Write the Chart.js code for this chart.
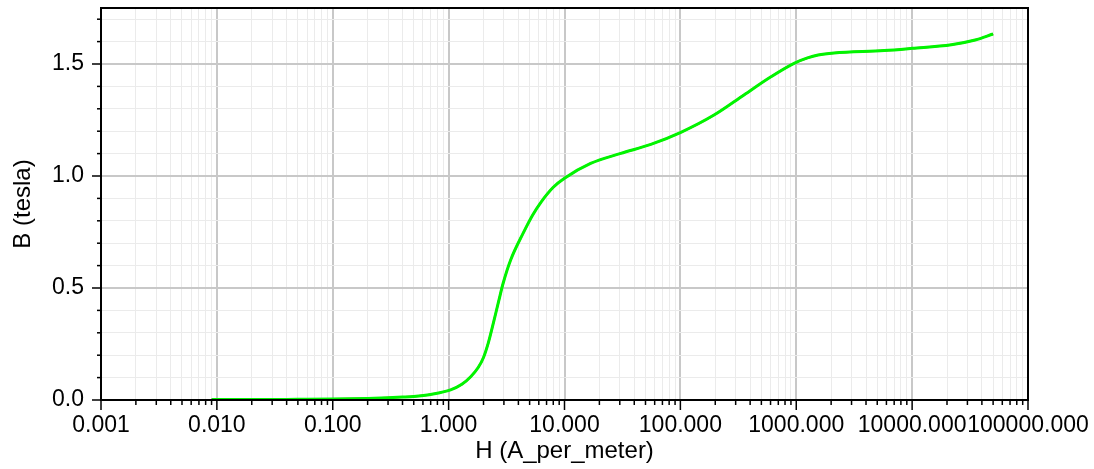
<!DOCTYPE html>
<html>
<head>
<meta charset="utf-8">
<script src="https://cdn.jsdelivr.net/npm/chart.js@4"></script>
<style>
  html, body { margin: 0; padding: 0; background: #fff; }
  #wrap { width: 1094px; height: 469px; }
</style>
</head>
<body>
<div id="wrap"><canvas id="chart"></canvas></div>
<script>
const hValues = [0.009, 0.02, 0.05, 0.1, 0.2, 0.3, 0.4, 0.5, 0.7, 1.04, 1.3, 1.55, 1.8, 2.0, 2.2, 2.45, 2.7, 2.95, 3.43, 4.4,
  5.3, 6.3, 8.0, 10.0, 16.8, 30.6, 55.6, 101, 195, 354, 605, 957, 1250, 1545, 2120, 5740, 10000, 21800, 35000, 50000]
const bValues = [0.002, 0.002, 0.003, 0.004, 0.007, 0.010, 0.013, 0.016, 0.025, 0.045, 0.07, 0.104, 0.145, 0.19, 0.255, 0.35, 0.44, 0.52, 0.625, 0.745,
  0.825, 0.885, 0.95, 0.99, 1.056, 1.101, 1.141, 1.195, 1.272, 1.362, 1.443, 1.503, 1.527, 1.540, 1.549, 1.560, 1.570, 1.586, 1.607, 1.634]

const xDecades = [0.001, 0.01, 0.1, 1, 10, 100, 1000, 10000, 100000]
const xTickLabels = ['0.001', '0.010', '0.100', '1.000', '10.000', '100.000', '1000.000', '10000.000', '100000.000']
const yMajorTicks = [0, 0.5, 1.0, 1.5]
const yTickLabels = ['0.0', '0.5', '1.0', '1.5']

const points = hValues.map((h, i) => ({ x: h, y: bValues[i] }))

function isDecade(v) {
  return Math.abs(Math.log10(v) - Math.round(Math.log10(v))) < 1e-9
}
function isYMajor(v) {
  return Math.abs(v * 2 - Math.round(v * 2)) < 1e-9
}

// frame + ticks of different lengths
const framePlugin = {
  id: 'frame',
  afterDraw(chart) {
    const { ctx, chartArea: a, scales } = chart
    ctx.save()
    ctx.strokeStyle = '#000'
    ctx.lineWidth = 1.5
    scales.x.ticks.forEach(t => {
      const px = scales.x.getPixelForValue(t.value)
      const len = isDecade(t.value) ? 10 : 5
      ctx.beginPath()
      ctx.moveTo(px, a.bottom)
      ctx.lineTo(px, a.bottom + len)
      ctx.stroke()
    })
    scales.y.ticks.forEach(t => {
      const py = scales.y.getPixelForValue(t.value)
      const len = isYMajor(t.value) ? 9 : 4
      ctx.beginPath()
      ctx.moveTo(a.left, py)
      ctx.lineTo(a.left - len, py)
      ctx.stroke()
    })
    ctx.lineWidth = 2
    ctx.strokeRect(a.left, a.top, a.right - a.left, a.bottom - a.top)
    ctx.restore()
  }
}

Chart.defaults.font.family = '"Liberation Sans", Arial, sans-serif'
Chart.defaults.color = '#000'

new Chart(document.getElementById('chart'), {
  type: 'scatter',
  data: {
    datasets: [{
      label: 'B-H fit',
      data: points,
      showLine: true,
      borderColor: '#e02020',
      borderWidth: 2,
      pointRadius: 0,
      cubicInterpolationMode: 'monotone',
      order: 2
    }, {
      label: 'B-H',
      data: points,
      showLine: true,
      borderColor: '#00f500',
      borderWidth: 3,
      pointRadius: 0,
      cubicInterpolationMode: 'monotone',
      order: 1
    }]
  },
  options: {
    responsive: true,
    maintainAspectRatio: false,
    animation: false,
    layout: { padding: { top: 8, right: 66, left: 0, bottom: 0 } },
    plugins: { legend: { display: false }, tooltip: { enabled: false } },
    scales: {
      x: {
        type: 'logarithmic',
        min: 0.001,
        max: 100000,
        afterBuildTicks(scale) {
          const ticks = []
          xDecades.forEach(d => {
            for (let m = 1; m <= 9; m++) {
              const v = Number((d * m).toPrecision(6))
              if (v <= 100000) ticks.push({ value: v })
            }
          })
          scale.ticks = ticks
        },
        afterFit(scale) {
          scale.height = 69
          scale.paddingLeft = 0
          scale.paddingRight = 0
        },
        grid: {
          drawTicks: false,
          color: c => (c.tick && isDecade(c.tick.value)) ? '#c8c8c8' : '#ebebeb',
          lineWidth: c => (c.tick && isDecade(c.tick.value)) ? 2 : 1
        },
        border: { display: false },
        ticks: {
          autoSkip: false,
          maxRotation: 0,
          padding: 12,
          font: { size: 23 },
          callback(v) {
            const i = xDecades.findIndex(d => Math.abs(d - v) / d < 1e-9)
            return i >= 0 ? xTickLabels[i] : ''
          }
        },
        title: { display: true, text: 'H (A_per_meter)', font: { size: 24 }, padding: { top: 0, bottom: 3 } }
      },
      y: {
        min: 0,
        max: 1.75,
        afterBuildTicks(scale) {
          const ticks = []
          for (let i = 0; i <= 17; i++) ticks.push({ value: Number((i * 0.1).toFixed(1)) })
          scale.ticks = ticks
        },
        afterFit(scale) {
          scale.width = 101
          scale.paddingTop = 0
          scale.paddingBottom = 0
        },
        grid: {
          drawTicks: false,
          color: c => (c.tick && isYMajor(c.tick.value)) ? '#c8c8c8' : '#ebebeb',
          lineWidth: c => (c.tick && isYMajor(c.tick.value)) ? 2 : 1
        },
        border: { display: false },
        ticks: {
          autoSkip: false,
          padding: 17,
          font: { size: 23 },
          callback(v) {
            const i = yMajorTicks.findIndex(m => Math.abs(m - v) < 1e-9)
            return i >= 0 ? yTickLabels[i] : ''
          }
        },
        title: { display: true, text: 'B (tesla)', font: { size: 24 }, padding: { top: 9, bottom: 0 } }
      }
    }
  },
  plugins: [framePlugin]
})
</script>
</body>
</html>
